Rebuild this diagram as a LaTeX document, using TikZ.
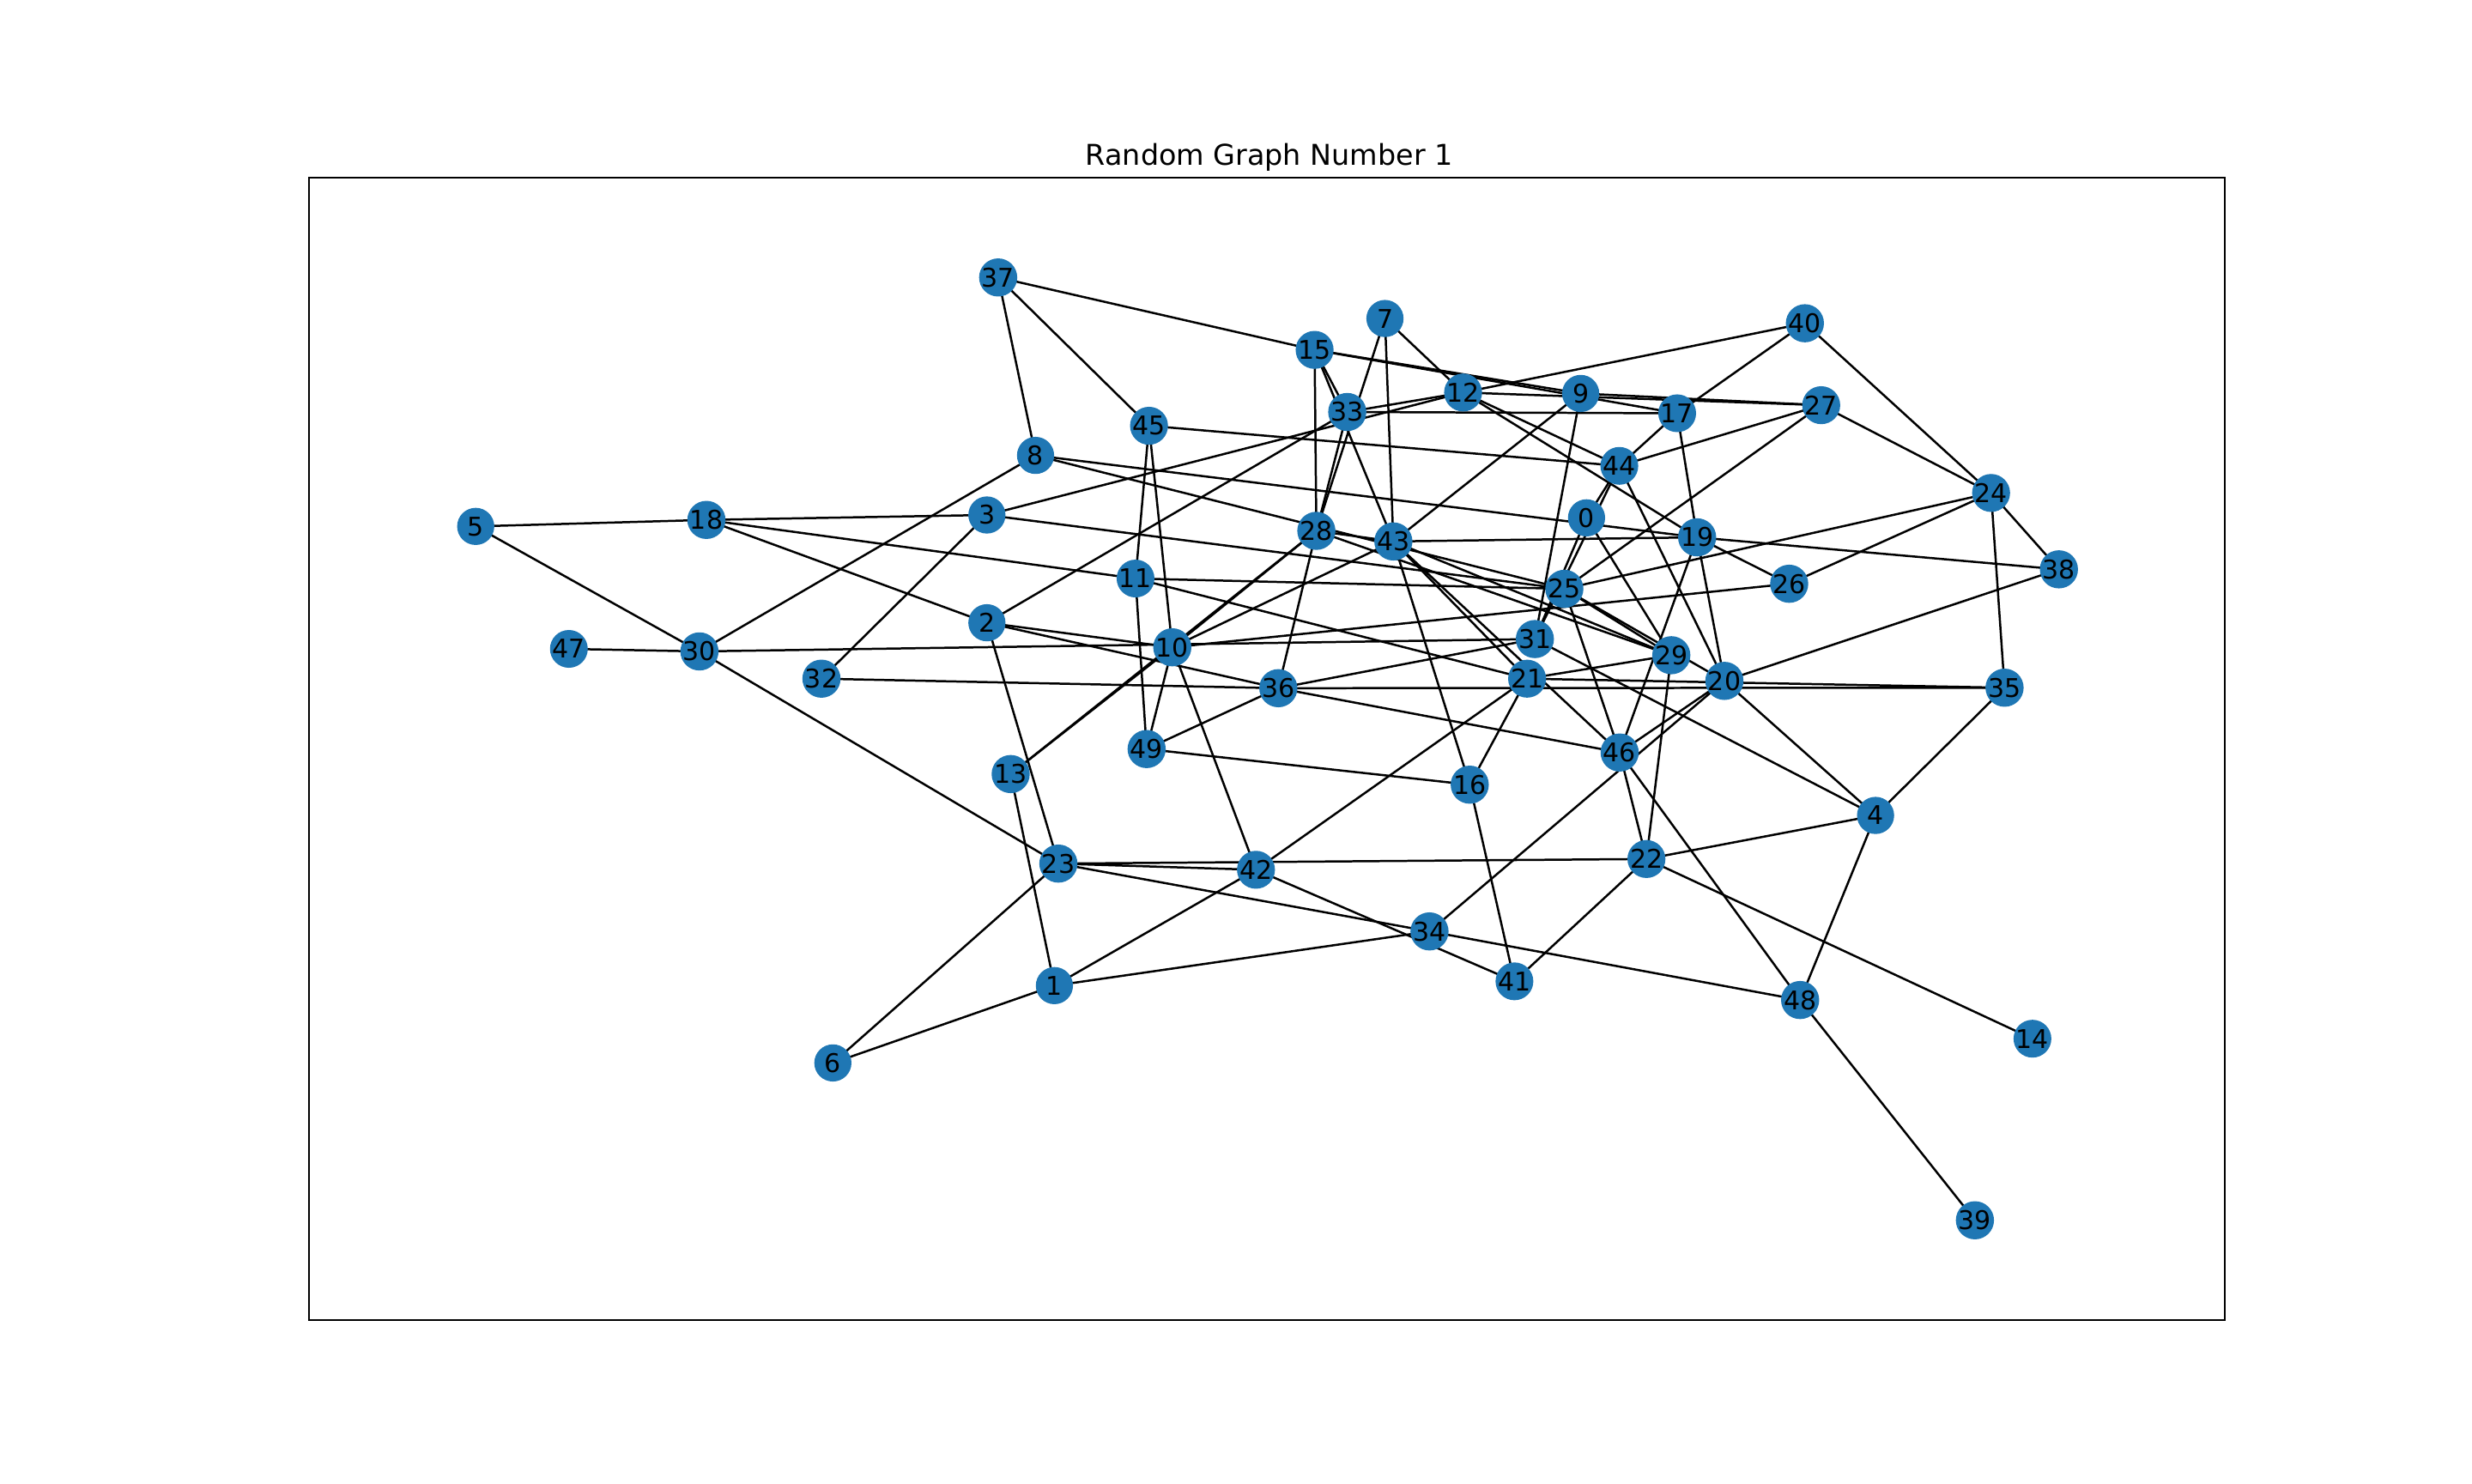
\documentclass[tikz,border=0pt]{standalone}
\usepackage{fontspec}
\setmainfont{DejaVu Sans}
\usepackage{tikz}
\usetikzlibrary{backgrounds}
\definecolor{nodeblue}{HTML}{1F77B4}
\tikzset{
  vertex/.style={circle, fill=nodeblue, minimum size=0.433cm, inner sep=0pt, font=\fontsize{8.54}{10}\selectfont},
  link/.style={line width=0.71pt, black},
  frame/.style={line width=0.57pt, black},
}

\begin{document}
\begin{tikzpicture}[x=0.0184615cm, y=-0.0184615cm]
  \useasboundingbox (0,0) rectangle (1560,936);
  \draw[frame] (195,112.32) rectangle (1404,833.04);
  \node[anchor=base, font=\fontsize{9.5}{11}\selectfont] (title) at (801,104.2) {Random Graph Number 1};

  % vertices
  \foreach \i/\x/\y in {0/1001.2/326.8, 1/665.4/622.0, 2/622.8/393.0, 3/622.8/325.0, 4/1183.6/514.6,
      5/300.2/332.2, 6/525.6/670.8, 7/874.0/201.0, 8/653.5/287.4, 9/997.5/248.3,
      10/739.8/408.5, 11/716.6/365.1, 12/923.3/247.7, 13/637.8/488.5, 14/1282.6/655.5,
      15/829.6/220.8, 16/927.5/495.2, 17/1058.4/260.8, 18/445.8/328.1, 19/1071.0/339.1,
      20/1088.2/429.7, 21/963.7/428.3, 22/1039.0/542.1, 23/667.9/545.0, 24/1256.5/311.1,
      25/987.2/371.6, 26/1129.1/368.4, 27/1149.3/255.7, 28/830.7/335.0, 29/1054.7/413.5,
      30/441.4/411.1, 31/968.6/403.3, 32/518.4/428.3, 33/850.2/260.0, 34/902.1/587.8,
      35/1265.0/434.0, 36/806.7/434.3, 37/629.9/175.1, 38/1299.3/359.3, 39/1246.3/770.1,
      40/1139.0/204.0, 41/955.7/619.3, 42/792.6/548.9, 43/879.3/341.7, 44/1021.9/294.0,
      45/725.1/268.7, 46/1022.1/474.9, 47/359.0/409.5, 48/1136.0/631.1, 49/723.6/472.7}
    \node[vertex] (n\i) at (\x,\y) {\i};

  % edges under the vertices
  \begin{scope}[on background layer]
    \foreach \a/\b in {5/18, 5/30, 47/30, 18/3, 18/2, 18/11, 30/8, 30/31, 30/23, 3/32,
        3/12, 3/25, 2/33, 2/10, 2/36, 2/23, 37/15, 37/45, 37/8, 8/19,
        8/25, 45/11, 45/10, 45/44, 15/28, 15/33, 15/43, 15/9, 15/17, 7/28,
        7/43, 7/12, 33/28, 33/12, 33/17, 40/12, 40/17, 40/24, 12/27, 9/27,
        12/44, 12/19, 9/43, 9/31, 17/44, 17/19, 27/44, 27/25, 27/24, 44/0,
        44/31, 0/31, 44/20, 0/29, 43/19, 28/43, 28/29, 28/10, 28/36, 43/10,
        43/29, 43/21, 43/46, 43/16, 11/25, 11/21, 11/49, 10/26, 10/49, 10/42,
        13/10, 13/28, 13/1, 36/49, 36/31, 36/46, 32/36, 36/35, 21/35, 21/29,
        21/42, 21/16, 31/4, 29/22, 19/46, 19/20, 19/26, 19/38, 25/24, 25/29,
        25/20, 25/46, 26/24, 24/38, 24/35, 38/20, 20/46, 20/34, 20/4, 35/4,
        4/22, 4/48, 46/22, 46/48, 22/41, 22/14, 23/42, 23/22, 23/34, 34/48,
        23/6, 6/1, 1/42, 1/34, 42/41, 49/16, 16/41, 48/39}
      \draw[link] (n\a.center) -- (n\b.center);
  \end{scope}
\end{tikzpicture}
\end{document}
